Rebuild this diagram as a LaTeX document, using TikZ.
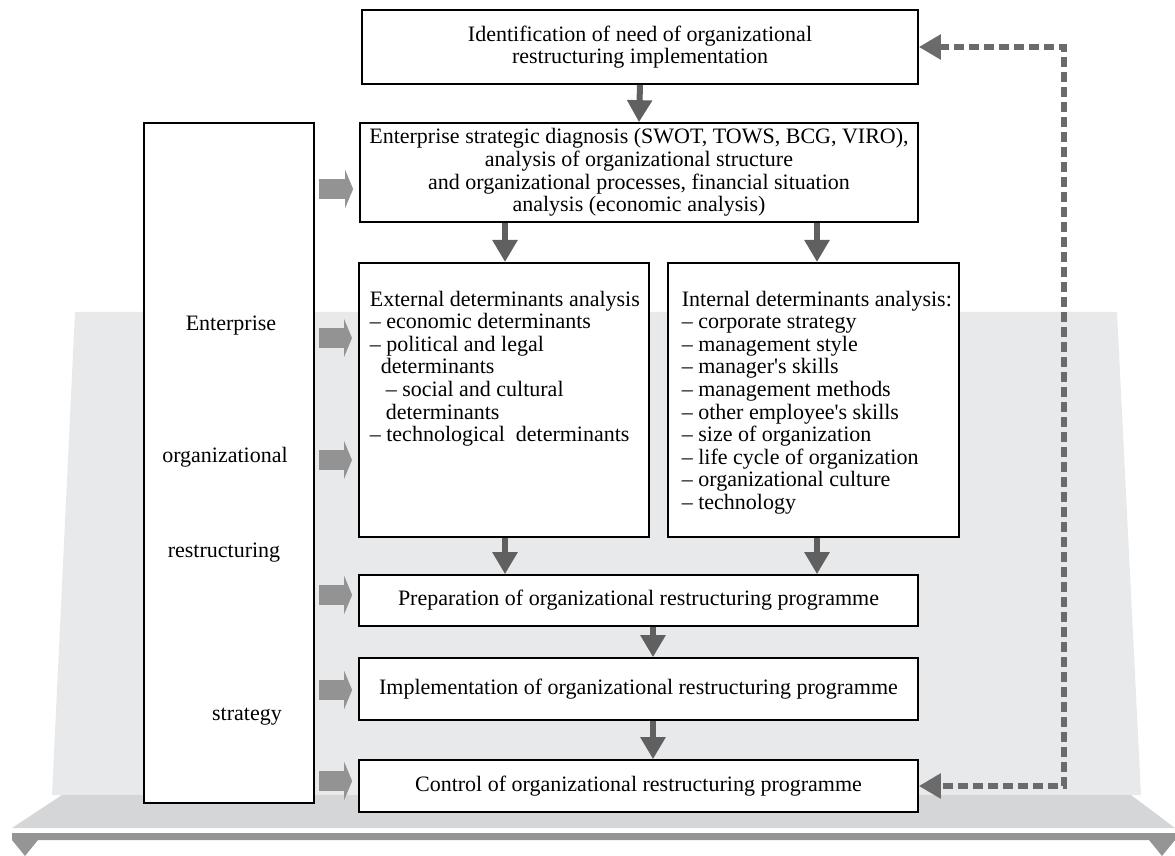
\documentclass[tikz,border=0pt]{standalone}
\usepackage{fontspec}
\setmainfont{Liberation Serif}
\usetikzlibrary{arrows.meta,calc}
\definecolor{bggray}{HTML}{E8E9EB}
\definecolor{platgray}{HTML}{D5D6D8}
\definecolor{bargray}{HTML}{959596}
\definecolor{blkgray}{HTML}{939393}
\definecolor{dngray}{HTML}{606060}
\definecolor{dashgray}{HTML}{6B6B6B}
\newcommand{\txtfont}{\fontsize{11}{11.3}\selectfont}
\begin{document}
\begin{tikzpicture}[x=0.5pt,y=-0.5pt,
  box/.style={draw=black, line width=0.85pt, fill=white, inner sep=0pt, align=center, font=\txtfont},
  dnarrow/.style={draw=dngray, line width=3pt, -{Triangle[length=11pt,width=12pt]}},
  blkarrow/.style={draw=blkgray, line width=10pt, -{Triangle[length=4pt,width=19pt]}, shorten <=2pt, shorten >=3pt},
  fbarrow/.style={draw=dashgray, line width=2.75pt, dash pattern=on 5pt off 2.5pt, {Triangle[length=11pt,width=12pt]}-{Triangle[length=11pt,width=12pt]}},
  lbl/.style={font=\txtfont, inner sep=0pt}
]
\useasboundingbox (0,0) rectangle (1175,856);
% background
\fill[bggray] (75,312) -- (1117,312) -- (1141,795) -- (52,795) -- cycle;
\fill[platgray] (62,795) -- (1131,795) -- (1175,828) -- (12,828) -- cycle;
\fill[bargray] (12,833) -- (1175,833) -- (1175,840) -- (1162,856) -- (1149,840)
  -- (38,840) -- (25,856) -- (12,840) -- cycle;

% boxes
\node[box, minimum width=278pt, minimum height=37pt] (top) at (640,47)
  {Identification of need of organizational\\restructuring implementation};
\node[box, minimum width=279pt, minimum height=49.5pt] (diag) at (639,172.5)
  {Enterprise strategic diagnosis (SWOT, TOWS, BCG, VIRO),\\analysis of organizational structure\\and organizational processes, financial situation\\analysis (economic analysis)};
\node[box, anchor=north west] (ext) at (358,262)
  {\begin{minipage}[c][137pt][t]{145pt}\raggedright\parindent=0pt\leftskip=5.5pt
   \vspace*{14pt}External determinants analysis\\
   – economic determinants\\
   – political and legal\\
   \hspace*{5.5pt}determinants\\
   \hspace*{8pt}– social and cultural\\
   \hspace*{8pt}determinants\\
   – technological\ \ determinants\end{minipage}};
\node[box, anchor=north west] (int) at (667,262)
  {\begin{minipage}[c][137pt][t]{145.5pt}\raggedright\parindent=0pt\leftskip=7pt
   \vspace*{14pt}Internal determinants analysis:\\
   – corporate strategy\\
   – management style\\
   – manager\textquotesingle s skills\\
   – management methods\\
   – other employee\textquotesingle s skills\\
   – size of organization\\
   – life cycle of organization\\
   – organizational culture\\
   – technology\end{minipage}};
\node[box, minimum width=279.5pt, minimum height=25.5pt] (prep) at (638.5,600.5)
  {Preparation of organizational restructuring programme};
\node[box, minimum width=279.5pt, minimum height=31pt] (impl) at (638.5,689)
  {Implementation of organizational restructuring programme};
\node[box, minimum width=279.5pt, minimum height=26pt] (ctrl) at (638.5,786)
  {Control of organizational restructuring programme};
\node[box, minimum width=85pt, minimum height=340pt] (left) at (229,463) {};
\node[lbl] (l1) at (231,326) {Enterprise};
\node[lbl] (l2) at (225,457) {organizational};
\node[lbl] (l3) at (224,553) {restructuring};
\node[lbl] (l4) at (247,717) {strategy};

% coordinates
\coordinate (xa) at (505,0);
\coordinate (xb) at (817,0);
\coordinate (xc) at (653,0);
\coordinate (xd) at (1064,0);
\coordinate (r1) at (0,189);
\coordinate (r2) at (0,338);
\coordinate (r3) at (0,460);
\coordinate (r4) at (0,595);
\coordinate (r5) at (0,690);
\coordinate (r6) at (0,781);

% down arrows
\draw[dnarrow] (top.south) -- (diag.north);
\draw[dnarrow] (diag.south -| xa) -- (ext.north -| xa);
\draw[dnarrow] (diag.south -| xb) -- (int.north -| xb);
\draw[dnarrow] (ext.south -| xa) -- (prep.north -| xa);
\draw[dnarrow] (int.south -| xb) -- (prep.north -| xb);
\draw[dnarrow] (prep.south -| xc) -- (impl.north -| xc);
\draw[dnarrow] (impl.south -| xc) -- (ctrl.north -| xc);

% block arrows
\draw[blkarrow] (left.east |- r1) -- (diag.west |- r1);
\draw[blkarrow] (left.east |- r2) -- (ext.west |- r2);
\draw[blkarrow] (left.east |- r3) -- (ext.west |- r3);
\draw[blkarrow] (left.east |- r4) -- (prep.west |- r4);
\draw[blkarrow] (left.east |- r5) -- (impl.west |- r5);
\draw[blkarrow] (left.east |- r6) -- (ctrl.west |- r6);

% feedback dashed arrow
\draw[fbarrow] (top.east) -- (top.east -| xd) -- (ctrl.east -| xd) -- (ctrl.east);
\end{tikzpicture}
\end{document}
